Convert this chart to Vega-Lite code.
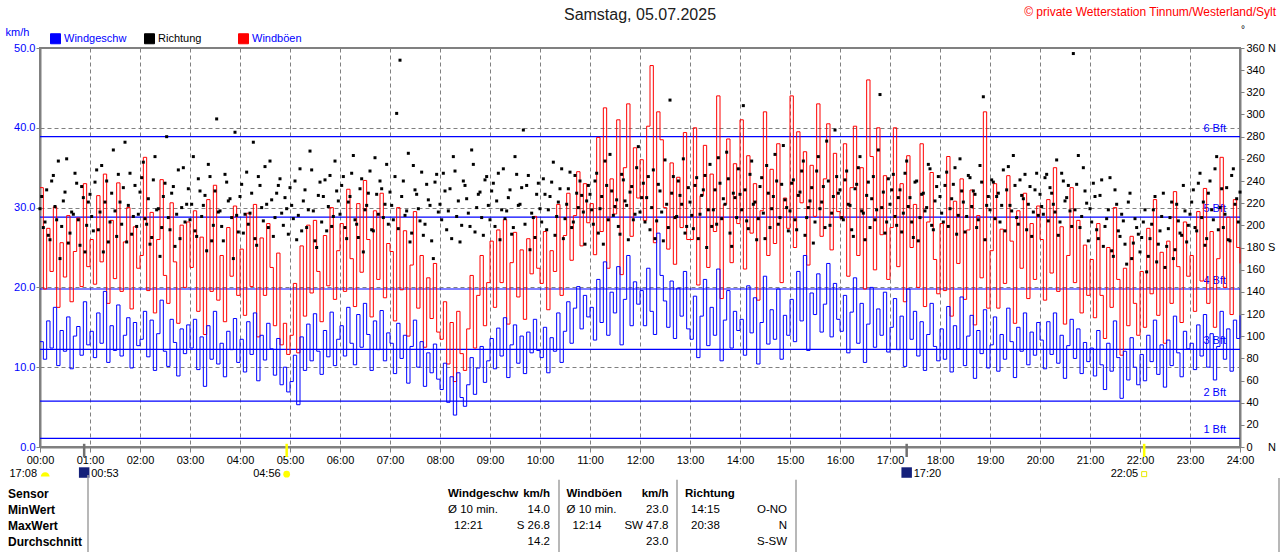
{
"$schema": "https://vega.github.io/schema/vega-lite/v6.json",
"width": 1200,
"height": 399,
"autosize": {"type": "none"},
"padding": {"left": 40, "top": 48, "right": 40, "bottom": 105},
"background": "#ffffff",
"config": {"view": {"stroke": "#808080", "strokeWidth": 2}, "font": "Liberation Sans", "text": {"font": "Liberation Sans"}, "axis": {"labelOverlap": false, "labelFlush": false}},
"datasets": {
"wind": [
{"m":0,"w":13.2,"g":32.5,"d":215},{"m":4,"w":11.0,"g":19.8,"d":198},{"m":8,"w":15.8,"g":27.4,"d":232},{"m":12,"w":12.4,"g":22.0,"d":187},{"m":16,"w":17.5,"g":30.1,"d":245},{"m":20,"w":10.2,"g":17.5,"d":205},{"m":24,"w":14.6,"g":25.6,"d":170},{"m":28,"w":12.0,"g":21.3,"d":222},{"m":32,"w":16.3,"g":29.0,"d":260},{"m":36,"w":9.8,"g":18.2,"d":193},{"m":40,"w":13.9,"g":24.5,"d":210},{"m":44,"w":15.1,"g":28.7,"d":238},{"m":48,"w":11.5,"g":20.1,"d":182},{"m":52,"w":18.2,"g":33.0,"d":225},{"m":56,"w":12.8,"g":22.6,"d":200},
{"m":60,"w":14.5,"g":26.0,"d":228},{"m":64,"w":11.2,"g":20.4,"d":195},{"m":68,"w":16.8,"g":31.5,"d":250},{"m":72,"w":13.0,"g":23.2,"d":212},{"m":76,"w":19.5,"g":34.2,"d":176},{"m":80,"w":10.6,"g":18.0,"d":240},{"m":84,"w":15.2,"g":28.4,"d":203},{"m":88,"w":12.1,"g":21.1,"d":268},{"m":92,"w":17.8,"g":33.1,"d":190},{"m":96,"w":11.4,"g":19.5,"d":221},{"m":100,"w":14.0,"g":25.7,"d":234},{"m":104,"w":16.2,"g":30.0,"d":185},{"m":108,"w":9.9,"g":17.3,"d":247},{"m":112,"w":15.6,"g":27.6,"d":208},{"m":116,"w":12.7,"g":22.4,"d":199},
{"m":120,"w":13.5,"g":24.0,"d":230},{"m":124,"w":17.0,"g":36.3,"d":257},{"m":128,"w":11.3,"g":19.6,"d":201},{"m":132,"w":15.9,"g":29.4,"d":183},{"m":136,"w":9.6,"g":16.8,"d":241},{"m":140,"w":14.2,"g":26.0,"d":214},{"m":144,"w":18.4,"g":33.5,"d":172},{"m":148,"w":12.0,"g":21.5,"d":226},{"m":152,"w":10.1,"g":18.0,"d":280},{"m":156,"w":16.0,"g":30.6,"d":196},{"m":160,"w":13.1,"g":23.2,"d":235},{"m":164,"w":8.9,"g":15.5,"d":210},{"m":168,"w":14.8,"g":27.8,"d":188},{"m":172,"w":11.7,"g":20.0,"d":252},{"m":176,"w":15.3,"g":28.2,"d":219},
{"m":180,"w":12.4,"g":22.5,"d":205},{"m":184,"w":16.0,"g":29.6,"d":262},{"m":188,"w":9.7,"g":17.0,"d":190},{"m":192,"w":13.8,"g":26.3,"d":231},{"m":196,"w":7.6,"g":14.1,"d":218},{"m":200,"w":15.2,"g":31.0,"d":177},{"m":204,"w":11.0,"g":19.5,"d":244},{"m":208,"w":17.0,"g":32.8,"d":200},{"m":212,"w":10.4,"g":18.4,"d":296},{"m":216,"w":13.0,"g":24.0,"d":213},{"m":220,"w":8.8,"g":15.7,"d":186},{"m":224,"w":14.5,"g":27.5,"d":239},{"m":228,"w":12.2,"g":21.4,"d":224},{"m":232,"w":16.1,"g":30.2,"d":170},{"m":236,"w":10.6,"g":19.0,"d":209},
{"m":240,"w":13.5,"g":24.8,"d":226},{"m":244,"w":9.4,"g":16.5,"d":193},{"m":248,"w":15.7,"g":29.3,"d":248},{"m":252,"w":11.6,"g":20.1,"d":211},{"m":256,"w":16.8,"g":30.4,"d":275},{"m":260,"w":8.3,"g":13.8,"d":182},{"m":264,"w":14.0,"g":26.2,"d":236},{"m":268,"w":10.9,"g":19.0,"d":204},{"m":272,"w":15.5,"g":28.0,"d":219},{"m":276,"w":12.3,"g":22.5,"d":258},{"m":280,"w":9.0,"g":15.2,"d":190},{"m":284,"w":13.6,"g":24.3,"d":229},{"m":288,"w":7.8,"g":12.8,"d":242},{"m":292,"w":10.0,"g":15.5,"d":200},{"m":296,"w":6.9,"g":11.6,"d":215},
{"m":300,"w":8.2,"g":14.0,"d":234},{"m":304,"w":11.5,"g":20.5,"d":206},{"m":308,"w":5.3,"g":11.8,"d":187},{"m":312,"w":13.8,"g":25.2,"d":251},{"m":316,"w":9.6,"g":16.4,"d":222},{"m":320,"w":15.4,"g":27.8,"d":198},{"m":324,"w":10.8,"g":19.3,"d":267},{"m":328,"w":16.7,"g":28.4,"d":213},{"m":332,"w":12.0,"g":22.0,"d":180},{"m":336,"w":9.1,"g":15.7,"d":239},{"m":340,"w":14.6,"g":26.5,"d":226},{"m":344,"w":11.3,"g":20.2,"d":195},{"m":348,"w":16.9,"g":30.0,"d":245},{"m":352,"w":10.2,"g":18.5,"d":208},{"m":356,"w":13.5,"g":24.6,"d":231},
{"m":360,"w":15.2,"g":28.0,"d":210},{"m":364,"w":11.4,"g":19.5,"d":244},{"m":368,"w":17.5,"g":32.3,"d":188},{"m":372,"w":13.0,"g":23.6,"d":226},{"m":376,"w":10.3,"g":17.6,"d":263},{"m":380,"w":16.6,"g":30.5,"d":201},{"m":384,"w":12.5,"g":21.9,"d":233},{"m":388,"w":18.0,"g":33.4,"d":176},{"m":392,"w":14.1,"g":26.0,"d":218},{"m":396,"w":9.6,"g":16.3,"d":249},{"m":400,"w":15.8,"g":29.6,"d":195},{"m":404,"w":12.2,"g":21.0,"d":228},{"m":408,"w":17.1,"g":31.8,"d":240},{"m":412,"w":10.8,"g":18.7,"d":207},{"m":416,"w":14.3,"g":25.5,"d":255},
{"m":420,"w":13.0,"g":24.5,"d":230},{"m":424,"w":9.2,"g":15.8,"d":205},{"m":428,"w":15.5,"g":30.0,"d":301},{"m":432,"w":11.1,"g":19.7,"d":349},{"m":436,"w":14.0,"g":27.1,"d":240},{"m":440,"w":8.0,"g":13.9,"d":213},{"m":444,"w":12.6,"g":22.8,"d":185},{"m":448,"w":15.9,"g":29.5,"d":254},{"m":452,"w":10.0,"g":17.4,"d":228},{"m":456,"w":13.2,"g":24.0,"d":204},{"m":460,"w":7.6,"g":12.5,"d":191},{"m":464,"w":11.8,"g":21.2,"d":237},{"m":468,"w":9.3,"g":16.1,"d":218},{"m":472,"w":12.9,"g":23.0,"d":170},{"m":476,"w":8.5,"g":14.4,"d":246},
{"m":480,"w":7.2,"g":13.5,"d":219},{"m":484,"w":10.5,"g":18.2,"d":247},{"m":488,"w":5.6,"g":10.4,"d":196},{"m":492,"w":8.8,"g":15.6,"d":233},{"m":496,"w":4.0,"g":8.2,"d":262},{"m":500,"w":9.3,"g":17.0,"d":208},{"m":504,"w":6.2,"g":11.7,"d":185},{"m":508,"w":5.1,"g":9.6,"d":240},{"m":512,"w":7.8,"g":14.8,"d":224},{"m":516,"w":11.2,"g":21.5,"d":199},{"m":520,"w":6.6,"g":12.4,"d":255},{"m":524,"w":9.9,"g":19.0,"d":216},{"m":528,"w":12.6,"g":24.0,"d":230},{"m":532,"w":8.1,"g":15.2,"d":191},{"m":536,"w":10.8,"g":20.6,"d":244},
{"m":540,"w":13.6,"g":25.8,"d":205},{"m":544,"w":9.8,"g":17.5,"d":238},{"m":548,"w":14.9,"g":27.2,"d":222},{"m":552,"w":11.4,"g":20.6,"d":187},{"m":556,"w":16.2,"g":28.5,"d":251},{"m":560,"w":8.7,"g":15.4,"d":213},{"m":564,"w":12.8,"g":23.1,"d":232},{"m":568,"w":15.3,"g":26.9,"d":198},{"m":572,"w":10.5,"g":18.8,"d":246},{"m":576,"w":13.9,"g":24.7,"d":219},{"m":580,"w":9.2,"g":16.0,"d":286},{"m":584,"w":14.4,"g":26.1,"d":236},{"m":588,"w":11.8,"g":21.7,"d":178},{"m":592,"w":16.0,"g":28.9,"d":207},{"m":596,"w":12.1,"g":22.4,"d":228},
{"m":600,"w":11.2,"g":20.5,"d":215},{"m":604,"w":15.0,"g":27.0,"d":242},{"m":608,"w":9.3,"g":17.2,"d":196},{"m":612,"w":13.7,"g":24.6,"d":226},{"m":616,"w":12.0,"g":22.0,"d":257},{"m":620,"w":16.8,"g":30.4,"d":208},{"m":624,"w":10.6,"g":19.0,"d":233},{"m":628,"w":14.5,"g":26.5,"d":188},{"m":632,"w":18.2,"g":31.8,"d":219},{"m":636,"w":13.0,"g":23.4,"d":248},{"m":640,"w":17.4,"g":29.0,"d":203},{"m":644,"w":20.1,"g":34.5,"d":229},{"m":648,"w":14.8,"g":25.2,"d":240},{"m":652,"w":19.0,"g":33.0,"d":212},{"m":656,"w":16.3,"g":28.1,"d":222},
{"m":660,"w":17.5,"g":30.5,"d":228},{"m":664,"w":13.4,"g":24.1,"d":201},{"m":668,"w":21.0,"g":38.8,"d":247},{"m":672,"w":15.6,"g":27.0,"d":215},{"m":676,"w":23.2,"g":42.5,"d":183},{"m":680,"w":14.0,"g":22.4,"d":236},{"m":684,"w":19.4,"g":33.6,"d":264},{"m":688,"w":16.8,"g":29.2,"d":209},{"m":692,"w":22.6,"g":41.0,"d":223},{"m":696,"w":12.8,"g":21.6,"d":192},{"m":700,"w":18.5,"g":35.0,"d":241},{"m":704,"w":24.0,"g":43.0,"d":218},{"m":708,"w":15.2,"g":26.4,"d":230},{"m":712,"w":20.7,"g":37.5,"d":205},{"m":716,"w":17.9,"g":31.2,"d":252},
{"m":720,"w":19.6,"g":36.0,"d":212},{"m":724,"w":15.2,"g":28.4,"d":238},{"m":728,"w":22.4,"g":40.2,"d":225},{"m":732,"w":17.0,"g":47.8,"d":196},{"m":736,"w":14.1,"g":25.6,"d":250},{"m":740,"w":26.8,"g":42.0,"d":204},{"m":744,"w":21.5,"g":38.5,"d":231},{"m":748,"w":18.3,"g":30.0,"d":186},{"m":752,"w":15.0,"g":24.8,"d":219},{"m":756,"w":20.8,"g":35.6,"d":313},{"m":760,"w":13.6,"g":22.9,"d":244},{"m":764,"w":19.9,"g":33.8,"d":208},{"m":768,"w":16.4,"g":27.5,"d":227},{"m":772,"w":22.0,"g":39.4,"d":260},{"m":776,"w":14.8,"g":26.0,"d":199},
{"m":780,"w":13.5,"g":26.0,"d":221},{"m":784,"w":18.9,"g":40.0,"d":197},{"m":788,"w":11.2,"g":20.3,"d":243},{"m":792,"w":16.4,"g":31.5,"d":210},{"m":796,"w":21.0,"g":37.8,"d":232},{"m":800,"w":12.7,"g":22.5,"d":180},{"m":804,"w":17.5,"g":34.2,"d":255},{"m":808,"w":14.0,"g":27.0,"d":214},{"m":812,"w":22.3,"g":44.0,"d":201},{"m":816,"w":10.8,"g":18.6,"d":238},{"m":820,"w":15.9,"g":30.4,"d":224},{"m":824,"w":19.6,"g":38.6,"d":266},{"m":828,"w":12.4,"g":23.1,"d":193},{"m":832,"w":17.0,"g":35.5,"d":229},{"m":836,"w":14.6,"g":28.0,"d":207},
{"m":840,"w":16.0,"g":41.0,"d":228},{"m":844,"w":11.5,"g":22.3,"d":308},{"m":848,"w":20.2,"g":36.5,"d":204},{"m":852,"w":14.3,"g":26.8,"d":246},{"m":856,"w":18.7,"g":33.0,"d":219},{"m":860,"w":10.4,"g":18.4,"d":187},{"m":864,"w":15.6,"g":29.6,"d":235},{"m":868,"w":21.4,"g":42.0,"d":211},{"m":872,"w":12.9,"g":24.0,"d":254},{"m":876,"w":17.2,"g":34.8,"d":198},{"m":880,"w":13.5,"g":25.5,"d":226},{"m":884,"w":19.8,"g":38.0,"d":240},{"m":888,"w":11.0,"g":20.6,"d":207},{"m":892,"w":16.5,"g":31.2,"d":272},{"m":896,"w":14.0,"g":27.4,"d":216},
{"m":900,"w":18.5,"g":44.0,"d":213},{"m":904,"w":13.2,"g":25.0,"d":241},{"m":908,"w":22.0,"g":39.5,"d":196},{"m":912,"w":15.8,"g":30.6,"d":230},{"m":916,"w":24.0,"g":37.0,"d":258},{"m":920,"w":12.1,"g":22.8,"d":207},{"m":924,"w":19.3,"g":35.3,"d":222},{"m":928,"w":16.6,"g":28.9,"d":184},{"m":932,"w":21.7,"g":43.0,"d":249},{"m":936,"w":14.4,"g":26.4,"d":215},{"m":940,"w":17.9,"g":33.6,"d":235},{"m":944,"w":23.0,"g":40.5,"d":276},{"m":948,"w":13.8,"g":24.7,"d":200},{"m":952,"w":20.5,"g":36.8,"d":226},{"m":956,"w":16.0,"g":29.5,"d":244},
{"m":960,"w":14.5,"g":28.6,"d":232},{"m":964,"w":19.0,"g":38.0,"d":205},{"m":968,"w":11.8,"g":21.4,"d":249},{"m":972,"w":16.9,"g":32.5,"d":218},{"m":976,"w":21.2,"g":40.2,"d":190},{"m":980,"w":13.0,"g":24.0,"d":237},{"m":984,"w":18.0,"g":35.0,"d":262},{"m":988,"w":10.6,"g":19.8,"d":211},{"m":992,"w":15.4,"g":46.0,"d":227},{"m":996,"w":20.0,"g":36.4,"d":198},{"m":1000,"w":12.5,"g":22.2,"d":244},{"m":1004,"w":17.3,"g":40.0,"d":214},{"m":1008,"w":14.0,"g":26.6,"d":318},{"m":1012,"w":19.4,"g":34.0,"d":230},{"m":1016,"w":11.9,"g":21.0,"d":203},
{"m":1020,"w":15.0,"g":27.5,"d":219},{"m":1024,"w":18.6,"g":40.0,"d":246},{"m":1028,"w":12.2,"g":22.6,"d":200},{"m":1032,"w":16.4,"g":33.0,"d":232},{"m":1036,"w":10.1,"g":18.2,"d":211},{"m":1040,"w":19.8,"g":36.5,"d":258},{"m":1044,"w":13.5,"g":25.0,"d":225},{"m":1048,"w":17.0,"g":30.4,"d":189},{"m":1052,"w":11.4,"g":20.0,"d":240},{"m":1056,"w":15.7,"g":38.0,"d":207},{"m":1060,"w":9.6,"g":17.6,"d":229},{"m":1064,"w":14.1,"g":28.2,"d":216},{"m":1068,"w":18.0,"g":34.4,"d":251},{"m":1072,"w":12.6,"g":23.5,"d":196},{"m":1076,"w":10.8,"g":19.2,"d":235},
{"m":1080,"w":14.8,"g":28.0,"d":226},{"m":1084,"w":11.0,"g":19.6,"d":203},{"m":1088,"w":17.6,"g":36.4,"d":248},{"m":1092,"w":9.4,"g":16.4,"d":215},{"m":1096,"w":15.2,"g":30.8,"d":237},{"m":1100,"w":12.3,"g":23.0,"d":192},{"m":1104,"w":18.8,"g":33.6,"d":260},{"m":1108,"w":10.2,"g":18.5,"d":221},{"m":1112,"w":13.9,"g":27.2,"d":208},{"m":1116,"w":16.5,"g":32.2,"d":243},{"m":1120,"w":8.6,"g":15.3,"d":231},{"m":1124,"w":14.6,"g":29.0,"d":198},{"m":1128,"w":11.7,"g":21.2,"d":254},{"m":1132,"w":17.2,"g":42.0,"d":316},{"m":1136,"w":9.9,"g":17.4,"d":218},
{"m":1140,"w":12.8,"g":24.6,"d":214},{"m":1144,"w":16.3,"g":33.0,"d":239},{"m":1148,"w":9.5,"g":17.4,"d":226},{"m":1152,"w":14.1,"g":27.3,"d":203},{"m":1156,"w":11.0,"g":20.5,"d":250},{"m":1160,"w":17.4,"g":34.0,"d":232},{"m":1164,"w":13.2,"g":25.8,"d":218},{"m":1168,"w":8.7,"g":15.5,"d":263},{"m":1172,"w":15.0,"g":29.6,"d":207},{"m":1176,"w":12.0,"g":22.4,"d":241},{"m":1180,"w":16.8,"g":31.8,"d":224},{"m":1184,"w":10.3,"g":18.6,"d":196},{"m":1188,"w":14.4,"g":28.0,"d":235},{"m":1192,"w":11.5,"g":21.0,"d":212},{"m":1196,"w":15.6,"g":30.2,"d":247},
{"m":1200,"w":13.4,"g":26.0,"d":228},{"m":1204,"w":9.8,"g":18.4,"d":210},{"m":1208,"w":15.7,"g":31.0,"d":246},{"m":1212,"w":11.6,"g":21.8,"d":234},{"m":1216,"w":16.8,"g":35.0,"d":219},{"m":1220,"w":10.5,"g":19.5,"d":259},{"m":1224,"w":14.0,"g":27.6,"d":203},{"m":1228,"w":8.6,"g":15.4,"d":240},{"m":1232,"w":12.7,"g":24.0,"d":225},{"m":1236,"w":16.0,"g":32.5,"d":213},{"m":1240,"w":11.1,"g":20.6,"d":355},{"m":1244,"w":14.8,"g":28.4,"d":237},{"m":1248,"w":9.2,"g":16.8,"d":198},{"m":1252,"w":13.1,"g":25.3,"d":252},{"m":1256,"w":10.7,"g":19.0,"d":220},
{"m":1260,"w":12.4,"g":23.5,"d":215},{"m":1264,"w":8.9,"g":16.2,"d":238},{"m":1268,"w":14.6,"g":28.0,"d":196},{"m":1272,"w":10.3,"g":19.0,"d":227},{"m":1276,"w":7.2,"g":13.6,"d":181},{"m":1280,"w":13.0,"g":25.0,"d":206},{"m":1284,"w":9.5,"g":17.5,"d":243},{"m":1288,"w":15.8,"g":30.0,"d":172},{"m":1292,"w":11.2,"g":21.0,"d":219},{"m":1296,"w":6.1,"g":11.5,"d":190},{"m":1300,"w":12.0,"g":22.4,"d":204},{"m":1304,"w":8.4,"g":15.2,"d":165},{"m":1308,"w":13.7,"g":26.4,"d":229},{"m":1312,"w":10.0,"g":18.0,"d":184},{"m":1316,"w":7.8,"g":14.0,"d":198},
{"m":1320,"w":11.6,"g":22.0,"d":176},{"m":1324,"w":8.3,"g":15.0,"d":203},{"m":1328,"w":14.0,"g":27.4,"d":158},{"m":1332,"w":10.7,"g":19.2,"d":188},{"m":1336,"w":15.9,"g":31.0,"d":214},{"m":1340,"w":9.1,"g":16.5,"d":167},{"m":1344,"w":12.8,"g":24.4,"d":195},{"m":1348,"w":7.5,"g":13.0,"d":229},{"m":1352,"w":13.4,"g":25.8,"d":181},{"m":1356,"w":10.2,"g":18.0,"d":207},{"m":1360,"w":16.4,"g":32.0,"d":170},{"m":1364,"w":11.8,"g":22.6,"d":219},{"m":1368,"w":8.8,"g":15.6,"d":193},{"m":1372,"w":14.5,"g":28.2,"d":236},{"m":1376,"w":12.3,"g":21.4,"d":185},
{"m":1380,"w":13.0,"g":24.0,"d":210},{"m":1384,"w":9.7,"g":17.0,"d":232},{"m":1388,"w":15.3,"g":29.5,"d":195},{"m":1392,"w":11.4,"g":20.8,"d":247},{"m":1396,"w":16.6,"g":32.4,"d":221},{"m":1400,"w":10.0,"g":18.0,"d":188},{"m":1404,"w":14.2,"g":27.0,"d":240},{"m":1408,"w":8.4,"g":15.0,"d":205},{"m":1412,"w":12.6,"g":23.6,"d":262},{"m":1416,"w":17.0,"g":36.3,"d":216},{"m":1420,"w":11.0,"g":20.0,"d":198},{"m":1424,"w":14.8,"g":28.8,"d":234},{"m":1428,"w":9.5,"g":16.6,"d":186},{"m":1432,"w":15.9,"g":31.0,"d":251},{"m":1436,"w":13.6,"g":25.0,"d":224},{"m":1440,"w":16.5,"g":23.0,"d":230}
],
"richtung": [
{"m":2,"d":226},{"m":6,"d":203},{"m":10,"d":191},{"m":14,"d":240},{"m":18,"d":217},{"m":22,"d":258},{"m":26,"d":199},{"m":30,"d":230},{"m":34,"d":184},{"m":38,"d":212},{"m":42,"d":247},{"m":46,"d":205},{"m":50,"d":235},{"m":54,"d":176},{"m":58,"d":221},
{"m":62,"d":208},{"m":66,"d":239},{"m":70,"d":196},{"m":74,"d":254},{"m":78,"d":221},{"m":82,"d":185},{"m":86,"d":229},{"m":90,"d":213},{"m":94,"d":246},{"m":98,"d":201},{"m":102,"d":275},{"m":106,"d":218},{"m":110,"d":192},{"m":114,"d":236},{"m":118,"d":210},
{"m":122,"d":243},{"m":126,"d":206},{"m":130,"d":224},{"m":134,"d":189},{"m":138,"d":262},{"m":142,"d":215},{"m":146,"d":198},{"m":150,"d":238},{"m":154,"d":207},{"m":158,"d":229},{"m":162,"d":181},{"m":166,"d":250},{"m":170,"d":216},{"m":174,"d":203},{"m":178,"d":233},
{"m":182,"d":219},{"m":186,"d":195},{"m":190,"d":242},{"m":194,"d":208},{"m":198,"d":227},{"m":202,"d":255},{"m":206,"d":186},{"m":210,"d":231},{"m":214,"d":212},{"m":218,"d":199},{"m":222,"d":246},{"m":226,"d":222},{"m":230,"d":207},{"m":234,"d":284},{"m":238,"d":194},
{"m":242,"d":237},{"m":246,"d":210},{"m":250,"d":201},{"m":254,"d":229},{"m":258,"d":188},{"m":262,"d":244},{"m":266,"d":216},{"m":270,"d":253},{"m":274,"d":198},{"m":278,"d":223},{"m":282,"d":207},{"m":286,"d":236},{"m":290,"d":211},{"m":294,"d":225},{"m":298,"d":192},
{"m":302,"d":218},{"m":306,"d":240},{"m":310,"d":209},{"m":314,"d":195},{"m":318,"d":232},{"m":322,"d":214},{"m":326,"d":250},{"m":330,"d":186},{"m":334,"d":227},{"m":338,"d":203},{"m":342,"d":241},{"m":346,"d":217},{"m":350,"d":199},{"m":354,"d":258},{"m":358,"d":222},
{"m":362,"d":236},{"m":366,"d":198},{"m":370,"d":221},{"m":374,"d":247},{"m":378,"d":205},{"m":382,"d":189},{"m":386,"d":242},{"m":390,"d":214},{"m":394,"d":229},{"m":398,"d":196},{"m":402,"d":261},{"m":406,"d":210},{"m":410,"d":233},{"m":414,"d":219},{"m":418,"d":201},
{"m":422,"d":218},{"m":426,"d":244},{"m":430,"d":197},{"m":434,"d":226},{"m":438,"d":209},{"m":442,"d":265},{"m":446,"d":193},{"m":450,"d":232},{"m":454,"d":215},{"m":458,"d":248},{"m":462,"d":201},{"m":466,"d":223},{"m":470,"d":186},{"m":474,"d":239},{"m":478,"d":212},
{"m":482,"d":205},{"m":486,"d":231},{"m":490,"d":213},{"m":494,"d":188},{"m":498,"d":249},{"m":502,"d":222},{"m":506,"d":200},{"m":510,"d":236},{"m":514,"d":211},{"m":518,"d":268},{"m":522,"d":194},{"m":526,"d":228},{"m":530,"d":207},{"m":534,"d":241},{"m":538,"d":218},
{"m":542,"d":231},{"m":546,"d":199},{"m":550,"d":247},{"m":554,"d":214},{"m":558,"d":206},{"m":562,"d":225},{"m":566,"d":192},{"m":570,"d":262},{"m":574,"d":218},{"m":578,"d":234},{"m":582,"d":201},{"m":586,"d":245},{"m":590,"d":211},{"m":594,"d":189},{"m":598,"d":238},
{"m":602,"d":203},{"m":606,"d":228},{"m":610,"d":214},{"m":614,"d":239},{"m":618,"d":191},{"m":622,"d":221},{"m":626,"d":251},{"m":630,"d":206},{"m":634,"d":233},{"m":638,"d":198},{"m":642,"d":245},{"m":646,"d":216},{"m":650,"d":227},{"m":654,"d":183},{"m":658,"d":236},
{"m":662,"d":214},{"m":666,"d":240},{"m":670,"d":193},{"m":674,"d":226},{"m":678,"d":258},{"m":682,"d":205},{"m":686,"d":231},{"m":690,"d":217},{"m":694,"d":199},{"m":698,"d":246},{"m":702,"d":222},{"m":706,"d":187},{"m":710,"d":235},{"m":714,"d":210},{"m":718,"d":271},
{"m":722,"d":225},{"m":726,"d":203},{"m":730,"d":244},{"m":734,"d":216},{"m":738,"d":188},{"m":742,"d":237},{"m":746,"d":212},{"m":750,"d":259},{"m":754,"d":198},{"m":758,"d":229},{"m":762,"d":207},{"m":766,"d":240},{"m":770,"d":219},{"m":774,"d":193},{"m":778,"d":234},
{"m":782,"d":209},{"m":786,"d":236},{"m":790,"d":188},{"m":794,"d":227},{"m":798,"d":245},{"m":802,"d":214},{"m":806,"d":199},{"m":810,"d":232},{"m":814,"d":261},{"m":818,"d":206},{"m":822,"d":219},{"m":826,"d":242},{"m":830,"d":181},{"m":834,"d":225},{"m":838,"d":251},
{"m":842,"d":214},{"m":846,"d":232},{"m":850,"d":197},{"m":854,"d":258},{"m":858,"d":221},{"m":862,"d":206},{"m":866,"d":243},{"m":870,"d":188},{"m":874,"d":229},{"m":878,"d":215},{"m":882,"d":264},{"m":886,"d":201},{"m":890,"d":237},{"m":894,"d":223},{"m":898,"d":195},
{"m":902,"d":238},{"m":906,"d":205},{"m":910,"d":227},{"m":914,"d":249},{"m":918,"d":191},{"m":922,"d":216},{"m":926,"d":234},{"m":930,"d":203},{"m":934,"d":262},{"m":938,"d":221},{"m":942,"d":198},{"m":946,"d":240},{"m":950,"d":211},{"m":954,"d":286},{"m":958,"d":229},
{"m":962,"d":207},{"m":966,"d":241},{"m":970,"d":219},{"m":974,"d":196},{"m":978,"d":233},{"m":982,"d":252},{"m":986,"d":213},{"m":990,"d":187},{"m":994,"d":239},{"m":998,"d":224},{"m":1002,"d":205},{"m":1006,"d":268},{"m":1010,"d":216},{"m":1014,"d":193},{"m":1018,"d":242},
{"m":1022,"d":232},{"m":1026,"d":208},{"m":1030,"d":225},{"m":1034,"d":194},{"m":1038,"d":247},{"m":1042,"d":217},{"m":1046,"d":203},{"m":1050,"d":239},{"m":1054,"d":186},{"m":1058,"d":228},{"m":1062,"d":213},{"m":1066,"d":255},{"m":1070,"d":200},{"m":1074,"d":222},{"m":1078,"d":244},
{"m":1082,"d":211},{"m":1086,"d":236},{"m":1090,"d":199},{"m":1094,"d":224},{"m":1098,"d":252},{"m":1102,"d":209},{"m":1106,"d":231},{"m":1110,"d":194},{"m":1114,"d":245},{"m":1118,"d":217},{"m":1122,"d":228},{"m":1126,"d":205},{"m":1130,"d":239},{"m":1134,"d":187},{"m":1138,"d":226},
{"m":1142,"d":241},{"m":1146,"d":206},{"m":1150,"d":229},{"m":1154,"d":218},{"m":1158,"d":195},{"m":1162,"d":253},{"m":1166,"d":213},{"m":1170,"d":236},{"m":1174,"d":201},{"m":1178,"d":227},{"m":1182,"d":246},{"m":1186,"d":219},{"m":1190,"d":190},{"m":1194,"d":232},{"m":1198,"d":209},
{"m":1202,"d":217},{"m":1206,"d":243},{"m":1210,"d":204},{"m":1214,"d":229},{"m":1218,"d":212},{"m":1222,"d":191},{"m":1226,"d":247},{"m":1230,"d":222},{"m":1234,"d":236},{"m":1238,"d":199},{"m":1242,"d":214},{"m":1246,"d":263},{"m":1250,"d":208},{"m":1254,"d":231},{"m":1258,"d":186},
{"m":1262,"d":203},{"m":1266,"d":226},{"m":1270,"d":188},{"m":1274,"d":241},{"m":1278,"d":199},{"m":1282,"d":214},{"m":1286,"d":177},{"m":1290,"d":232},{"m":1294,"d":195},{"m":1298,"d":210},{"m":1302,"d":183},{"m":1306,"d":221},{"m":1310,"d":170},{"m":1314,"d":206},{"m":1318,"d":192},
{"m":1322,"d":189},{"m":1326,"d":214},{"m":1330,"d":172},{"m":1334,"d":201},{"m":1338,"d":226},{"m":1342,"d":183},{"m":1346,"d":208},{"m":1350,"d":162},{"m":1354,"d":197},{"m":1358,"d":221},{"m":1362,"d":178},{"m":1366,"d":204},{"m":1370,"d":191},{"m":1374,"d":213},{"m":1378,"d":200},
{"m":1382,"d":221},{"m":1386,"d":198},{"m":1390,"d":238},{"m":1394,"d":207},{"m":1398,"d":182},{"m":1402,"d":229},{"m":1406,"d":214},{"m":1410,"d":251},{"m":1414,"d":196},{"m":1418,"d":233},{"m":1422,"d":210},{"m":1426,"d":187},{"m":1430,"d":245},{"m":1434,"d":219},{"m":1438,"d":203}
],
"bft": [{"stufe":"1 Bft","v":1.08},{"stufe":"2 Bft","v":5.76},{"stufe":"3 Bft","v":12.24},{"stufe":"4 Bft","v":19.8},{"stufe":"5 Bft","v":28.8},{"stufe":"6 Bft","v":38.9}],
"events": [{"m":53,"ereignis":"Monduntergang","zeit":"00:53"},{"m":296,"ereignis":"Sonnenaufgang","zeit":"04:56"},{"m":1040,"ereignis":"Mondaufgang","zeit":"17:20"},{"m":1325,"ereignis":"Sonnenuntergang","zeit":"22:05"}],
"zeilen": [{"zeile":"Sensor"},{"zeile":"MinWert"},{"zeile":"MaxWert"},{"zeile":"Durchschnitt"}],
"tabelle": [
{"zeile":"Sensor","sensor":"Windgeschw","links":"Windgeschw","rechts":"km/h"},
{"zeile":"Sensor","sensor":"Windböen","links":"Windböen","rechts":"km/h"},
{"zeile":"Sensor","sensor":"Richtung","links":"Richtung"},
{"zeile":"MinWert","sensor":"Windgeschw","links":"Ø 10 min.","rechts":"14.0"},
{"zeile":"MinWert","sensor":"Windböen","links":"Ø 10 min.","rechts":"23.0"},
{"zeile":"MinWert","sensor":"Richtung","zeit":"14:15","rechts":"O-NO"},
{"zeile":"MaxWert","sensor":"Windgeschw","zeit":"12:21","rechts":"S 26.8"},
{"zeile":"MaxWert","sensor":"Windböen","zeit":"12:14","rechts":"SW 47.8"},
{"zeile":"MaxWert","sensor":"Richtung","zeit":"20:38","rechts":"N"},
{"zeile":"Durchschnitt","sensor":"Windgeschw","rechts":"14.2"},
{"zeile":"Durchschnitt","sensor":"Windböen","rechts":"23.0"},
{"zeile":"Durchschnitt","sensor":"Richtung","rechts":"S-SW"}
]
},
"resolve": {"scale": {"x": "independent", "y": "independent"}},
"layer": [
{
"layer": [
{"data": {"name": "bft"}, "mark": {"type": "rule", "color": "#0000ff", "strokeWidth": 1.2}, "encoding": {"y": {"field": "v", "type": "quantitative"}}},
{"data": {"name": "bft"}, "mark": {"type": "text", "align": "right", "baseline": "middle", "dx": -14, "dy": -8, "fontSize": 11, "color": "#0000ff"}, "encoding": {"x": {"datum": 1440, "type": "quantitative"}, "y": {"field": "v", "type": "quantitative"}, "text": {"field": "stufe"}}},
{"data": {"name": "wind"}, "mark": {"type": "line", "interpolate": "step-after", "strokeWidth": 1}, "encoding": {
"x": {"field": "m", "type": "quantitative", "scale": {"domain": [0, 1440], "nice": false}, "axis": {"values": [0,60,120,180,240,300,360,420,480,540,600,660,720,780,840,900,960,1020,1080,1140,1200,1260,1320,1380,1440], "labelExpr": "(datum.value < 600 ? '0' : '') + (datum.value / 60) + ':00'", "title": null, "grid": true, "gridColor": "#808080", "gridDash": [4, 3], "gridWidth": 1, "tickColor": "#808080", "tickSize": 5, "labelPadding": 2, "domainColor": "#808080", "domainWidth": 2, "labelColor": "#000000", "labelFontSize": 11, "labelFont": "Liberation Sans", "labelFlush": false, "labelOverlap": false}},
"y": {"field": "g", "type": "quantitative", "scale": {"domain": [0, 50], "nice": false}, "axis": {"values": [0,5,10,15,20,25,30,35,40,45,50], "format": ".1f", "title": "km/h", "titleColor": "#0000ff", "titleAngle": 0, "titleX": -35, "titleY": -16, "titleAlign": "left", "titleBaseline": "middle", "titleFontSize": 11, "titleFontWeight": "normal", "titleFont": "Liberation Sans", "grid": true, "gridColor": "#808080", "gridDash": [4, 3], "gridWidth": 1, "tickColor": "#808080", "tickSize": 4, "labelPadding": 1, "domainColor": "#808080", "domainWidth": 2, "labelColor": "#0000ff", "labelFontSize": 11, "labelFont": "Liberation Sans", "labelFlush": false, "labelOverlap": false}},
"color": {"datum": "Windböen", "type": "nominal", "scale": {"domain": ["Windgeschw", "Richtung", "Windböen"], "range": ["#0000ff", "#000000", "#ff0000"]}, "legend": {"orient": "none", "legendX": 10, "legendY": -15, "direction": "horizontal", "title": null, "symbolType": "square", "symbolSize": 100, "symbolStrokeColor": "#000000", "symbolStrokeWidth": 1, "labelFontSize": 11, "labelFont": "Liberation Sans", "labelOffset": 3, "columnPadding": 15, "gridAlign": "all", "padding": 0, "encode": {"symbols": {"update": {"fill": {"scale": "color", "field": "value"}, "fillOpacity": {"value": 1}, "stroke": {"value": "#000000"}, "strokeWidth": {"value": 1}, "opacity": {"value": 1}}}, "labels": {"update": {"fill": {"signal": "datum.label === 'Richtung' ? '#000000' : '#0000ff'"}}}}}}
}},
{"data": {"name": "wind"}, "mark": {"type": "line", "interpolate": "step-after", "strokeWidth": 1}, "encoding": {"x": {"field": "m", "type": "quantitative"}, "y": {"field": "w", "type": "quantitative"}, "color": {"datum": "Windgeschw", "type": "nominal", "scale": {"domain": ["Windgeschw", "Richtung", "Windböen"], "range": ["#0000ff", "#000000", "#ff0000"]}}}},
{"data": {"name": "events"}, "transform": [{"filter": "indexof(datum.ereignis, 'Mond') === 0"}], "mark": {"type": "rule", "color": "#707070", "strokeWidth": 2.5}, "encoding": {"x": {"field": "m", "type": "quantitative"}, "y": {"datum": 0.4}, "y2": {"datum": -1.25}}},
{"data": {"name": "events"}, "transform": [{"filter": "indexof(datum.ereignis, 'Sonne') === 0"}], "mark": {"type": "rule", "color": "#ffff00", "strokeWidth": 2.5}, "encoding": {"x": {"field": "m", "type": "quantitative"}, "y": {"datum": 0.4}, "y2": {"datum": -1.25}}},
{"data": {"name": "events"}, "transform": [{"filter": "indexof(datum.ereignis, 'Mond') === 0"}], "mark": {"type": "point", "shape": "square", "filled": true, "size": 110, "color": "#14207a", "opacity": 1}, "encoding": {"x": {"field": "m", "type": "quantitative"}, "y": {"datum": -3.2}}},
{"data": {"name": "events"}, "transform": [{"filter": "datum.ereignis === 'Sonnenaufgang'"}], "mark": {"type": "point", "shape": "circle", "filled": true, "size": 45, "color": "#ffff00", "opacity": 1}, "encoding": {"x": {"field": "m", "type": "quantitative"}, "y": {"datum": -3.4}}},
{"data": {"name": "events"}, "transform": [{"filter": "datum.ereignis === 'Sonnenuntergang'"}], "mark": {"type": "point", "shape": "square", "filled": false, "size": 25, "color": "#e8e800", "strokeWidth": 1, "opacity": 1}, "encoding": {"x": {"field": "m", "type": "quantitative"}, "y": {"datum": -3.4}}},
{"data": {"name": "events"}, "transform": [{"filter": "indexof(datum.ereignis, 'Mond') === 0"}], "mark": {"type": "text", "align": "left", "baseline": "middle", "dx": 7, "fontSize": 11, "color": "#000000"}, "encoding": {"x": {"field": "m", "type": "quantitative"}, "y": {"datum": -3.4}, "text": {"field": "zeit"}}},
{"data": {"name": "events"}, "transform": [{"filter": "indexof(datum.ereignis, 'Sonne') === 0"}], "mark": {"type": "text", "align": "right", "baseline": "middle", "dx": -6, "fontSize": 11, "color": "#000000"}, "encoding": {"x": {"field": "m", "type": "quantitative"}, "y": {"datum": -3.4}, "text": {"field": "zeit"}}},
{"data": {"values": [{"tageslaenge": "17:08"}]}, "mark": {"type": "text", "align": "right", "baseline": "middle", "dx": -3, "fontSize": 11, "color": "#000000"}, "encoding": {"x": {"datum": 0, "type": "quantitative"}, "y": {"datum": -3.4}, "text": {"field": "tageslaenge"}}},
{"data": {"values": [{"tageslaenge": "17:08"}]}, "mark": {"type": "point", "shape": "M 0.2 0.6 A 1.1 1.1 0 0 1 2.4 0.6 Z", "filled": true, "size": 64, "color": "#ffff00", "opacity": 1}, "encoding": {"x": {"datum": 0, "type": "quantitative"}, "y": {"datum": -3.4}}},
{"data": {"values": [{"titel": "Samstag, 05.07.2025"}]}, "mark": {"type": "text", "align": "center", "baseline": "middle", "dy": -33, "fontSize": 16, "color": "#202020"}, "encoding": {"x": {"datum": 720, "type": "quantitative"}, "y": {"datum": 50, "type": "quantitative"}, "text": {"field": "titel"}}},
{"data": {"values": [{"hinweis": "© private Wetterstation Tinnum/Westerland/Sylt"}]}, "mark": {"type": "text", "align": "right", "baseline": "middle", "dx": 36, "dy": -36, "fontSize": 12, "color": "#ff0000"}, "encoding": {"x": {"datum": 1440, "type": "quantitative"}, "y": {"datum": 50, "type": "quantitative"}, "text": {"field": "hinweis"}}},
{"data": {"values": [{"zeichen": "°"}]}, "mark": {"type": "text", "align": "center", "baseline": "middle", "dx": 3, "dy": -18, "fontSize": 10, "color": "#000000"}, "encoding": {"x": {"datum": 1440, "type": "quantitative"}, "y": {"datum": 50, "type": "quantitative"}, "text": {"field": "zeichen"}}},
{"data": {"values": [{"trenner": "Sensor"}]}, "mark": {"type": "rule", "color": "#a0a0a0", "strokeWidth": 1.5}, "encoding": {"x": {"datum": 57.6, "type": "quantitative"}, "y": {"datum": -3.5}, "y2": {"datum": -13.5}}},
{"data": {"values": [{"trenner": "Windgeschw"}]}, "mark": {"type": "rule", "color": "#a0a0a0", "strokeWidth": 1.5}, "encoding": {"x": {"datum": 622.8, "type": "quantitative"}, "y": {"datum": -4.1}, "y2": {"datum": -13.5}}},
{"data": {"values": [{"trenner": "Windböen"}]}, "mark": {"type": "rule", "color": "#a0a0a0", "strokeWidth": 1.5}, "encoding": {"x": {"datum": 764.4, "type": "quantitative"}, "y": {"datum": -4.1}, "y2": {"datum": -13.5}}},
{"data": {"values": [{"trenner": "Richtung"}]}, "mark": {"type": "rule", "color": "#a0a0a0", "strokeWidth": 1.5}, "encoding": {"x": {"datum": 907.2, "type": "quantitative"}, "y": {"datum": -4.1}, "y2": {"datum": -13.5}}},
{"data": {"values": [{"trenner": "Ende"}]}, "mark": {"type": "rule", "color": "#a0a0a0", "strokeWidth": 1.5}, "encoding": {"x": {"datum": 1486.8, "type": "quantitative"}, "y": {"datum": -3.9}, "y2": {"datum": -13.5}}}
]
},
{
"layer": [
{"data": {"name": "wind"}, "mark": {"type": "point", "shape": "square", "filled": true, "size": 9, "opacity": 1, "strokeWidth": 0}, "encoding": {
"x": {"field": "m", "type": "quantitative", "scale": {"domain": [0, 1440], "nice": false}, "axis": null},
"y": {"field": "d", "type": "quantitative", "scale": {"domain": [0, 360], "nice": false}, "axis": {"orient": "right", "values": [0,20,40,60,80,100,120,140,160,180,200,220,240,260,280,300,320,340,360], "labelExpr": "datum.value === 360 ? '360 N' : datum.value === 180 ? '180 S' : datum.value === 0 ? '0\u00a0\u00a0\u00a0\u00a0\u00a0N' : datum.label", "title": null, "grid": false, "tickColor": "#808080", "tickSize": 4, "labelPadding": 2, "domainColor": "#808080", "domainWidth": 2, "labelColor": "#000000", "labelFontSize": 11, "labelFont": "Liberation Sans", "labelAlign": "left", "labelFlush": false, "labelOverlap": false}},
"color": {"datum": "Richtung", "type": "nominal", "scale": {"domain": ["Windgeschw", "Richtung", "Windböen"], "range": ["#0000ff", "#000000", "#ff0000"]}}
}},
{"data": {"name": "richtung"}, "mark": {"type": "point", "shape": "square", "filled": true, "size": 9, "opacity": 1, "strokeWidth": 0}, "encoding": {
"x": {"field": "m", "type": "quantitative", "scale": {"domain": [0, 1440], "nice": false}, "axis": null},
"y": {"field": "d", "type": "quantitative", "scale": {"domain": [0, 360], "nice": false}, "axis": {"orient": "right", "values": [0,20,40,60,80,100,120,140,160,180,200,220,240,260,280,300,320,340,360], "labelExpr": "datum.value === 360 ? '360 N' : datum.value === 180 ? '180 S' : datum.value === 0 ? '0\u00a0\u00a0\u00a0\u00a0\u00a0N' : datum.label", "title": null, "grid": false, "tickColor": "#808080", "tickSize": 4, "labelPadding": 2, "domainColor": "#808080", "domainWidth": 2, "labelColor": "#000000", "labelFontSize": 11, "labelFont": "Liberation Sans", "labelAlign": "left", "labelFlush": false, "labelOverlap": false}},
"color": {"datum": "Richtung", "type": "nominal", "scale": {"domain": ["Windgeschw", "Richtung", "Windböen"], "range": ["#0000ff", "#000000", "#ff0000"]}}
}}
]
},
{
"resolve": {"scale": {"x": "independent"}},
"layer": [
{"data": {"name": "zeilen"}, "mark": {"type": "text", "align": "left", "baseline": "middle", "dx": -32, "fontSize": 12, "fontWeight": "bold", "color": "#000000"}, "encoding": {"x": {"datum": 0, "type": "quantitative", "scale": {"domain": [0, 1440], "nice": false}, "axis": null}, "y": {"field": "zeile", "type": "nominal", "scale": {"domain": ["Sensor", "MinWert", "MaxWert", "Durchschnitt"], "range": [446, 494], "padding": 0}, "axis": null}, "text": {"field": "zeile"}}},
{"data": {"name": "tabelle"}, "transform": [{"filter": "datum.zeile === 'Sensor'"}], "mark": {"type": "text", "align": "left", "baseline": "middle", "fontSize": 11.5, "fontWeight": "bold", "color": "#000000"}, "encoding": {"x": {"field": "sensor", "type": "nominal", "scale": {"domain": ["Windgeschw", "Windböen", "Richtung"], "range": [408, 645], "padding": 0}, "axis": null}, "y": {"field": "zeile", "type": "nominal", "scale": {"domain": ["Sensor", "MinWert", "MaxWert", "Durchschnitt"], "range": [446, 494], "padding": 0}, "axis": null}, "text": {"field": "links"}}},
{"data": {"name": "tabelle"}, "transform": [{"filter": "datum.zeile === 'Sensor' && datum.rechts"}], "mark": {"type": "text", "align": "right", "baseline": "middle", "dx": 102, "fontSize": 11.5, "fontWeight": "bold", "color": "#000000"}, "encoding": {"x": {"field": "sensor", "type": "nominal", "scale": {"domain": ["Windgeschw", "Windböen", "Richtung"], "range": [408, 645], "padding": 0}, "axis": null}, "y": {"field": "zeile", "type": "nominal", "scale": {"domain": ["Sensor", "MinWert", "MaxWert", "Durchschnitt"], "range": [446, 494], "padding": 0}, "axis": null}, "text": {"field": "rechts"}}},
{"data": {"name": "tabelle"}, "transform": [{"filter": "datum.zeile !== 'Sensor' && datum.links"}], "mark": {"type": "text", "align": "left", "baseline": "middle", "fontSize": 11.5, "color": "#000000"}, "encoding": {"x": {"field": "sensor", "type": "nominal", "scale": {"domain": ["Windgeschw", "Windböen", "Richtung"], "range": [408, 645], "padding": 0}, "axis": null}, "y": {"field": "zeile", "type": "nominal", "scale": {"domain": ["Sensor", "MinWert", "MaxWert", "Durchschnitt"], "range": [446, 494], "padding": 0}, "axis": null}, "text": {"field": "links"}}},
{"data": {"name": "tabelle"}, "transform": [{"filter": "datum.zeit"}], "mark": {"type": "text", "align": "left", "baseline": "middle", "dx": 6, "fontSize": 11.5, "color": "#000000"}, "encoding": {"x": {"field": "sensor", "type": "nominal", "scale": {"domain": ["Windgeschw", "Windböen", "Richtung"], "range": [408, 645], "padding": 0}, "axis": null}, "y": {"field": "zeile", "type": "nominal", "scale": {"domain": ["Sensor", "MinWert", "MaxWert", "Durchschnitt"], "range": [446, 494], "padding": 0}, "axis": null}, "text": {"field": "zeit"}}},
{"data": {"name": "tabelle"}, "transform": [{"filter": "datum.zeile !== 'Sensor' && datum.rechts"}], "mark": {"type": "text", "align": "right", "baseline": "middle", "dx": 102, "fontSize": 11.5, "color": "#000000"}, "encoding": {"x": {"field": "sensor", "type": "nominal", "scale": {"domain": ["Windgeschw", "Windböen", "Richtung"], "range": [408, 645], "padding": 0}, "axis": null}, "y": {"field": "zeile", "type": "nominal", "scale": {"domain": ["Sensor", "MinWert", "MaxWert", "Durchschnitt"], "range": [446, 494], "padding": 0}, "axis": null}, "text": {"field": "rechts"}}}
]
}
]
}
